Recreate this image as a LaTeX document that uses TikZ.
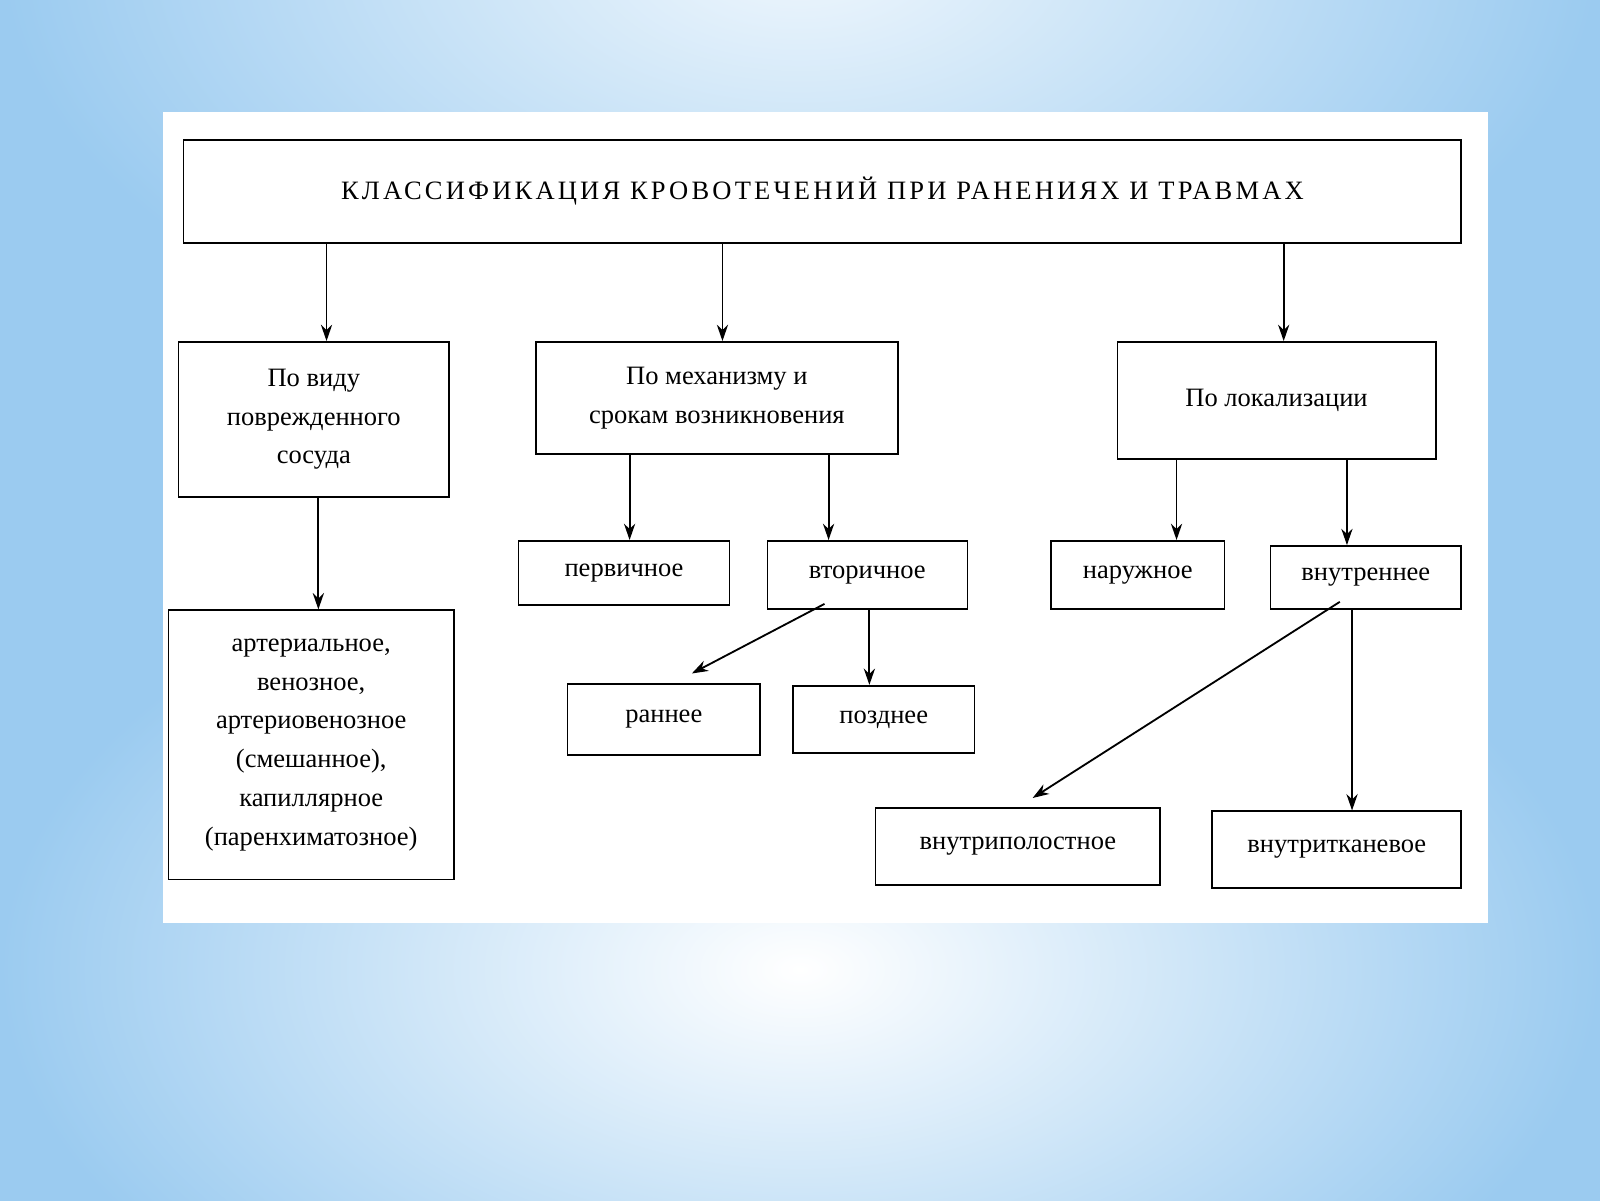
\documentclass[tikz,border=0pt]{standalone}
\usepackage{fontspec}
\setmainfont{Liberation Serif}
\usetikzlibrary{arrows.meta}
\definecolor{bgblue}{RGB}{155,203,240}
\tikzset{
 bx/.style={draw, line width=1.6pt, inner sep=0pt, align=center, font=\fontsize{26}{38}\selectfont},
 ar/.style={-{Stealth[length=16pt,width=11pt]}, line width=1.8pt},
}
\newcommand{\bxat}[6]{\node[bx, minimum width=#3-#1, minimum height=#4-#2] (#5) at ({(#1+#3)/2},{(#2+#4)/2}) {#6};}
\begin{document}
\begin{tikzpicture}[x=1pt,y=-1pt]
\useasboundingbox (0,0) rectangle (1568,1176);
\fill[bgblue] (0,0) rectangle (1568,1176);
\shade[inner color=white, outer color=bgblue] (0,500) rectangle (1568,1400);
\shade[inner color=white!85!bgblue, outer color=bgblue] (0,-500) rectangle (1568,400);
\fill[white] (160,110) rectangle (1458,905);
\bxat{180}{137}{1432}{238}{T}{\fontsize{26}{30}\selectfont\addfontfeature{LetterSpace=12}КЛАССИФИКАЦИЯ КРОВОТЕЧЕНИЙ ПРИ РАНЕНИЯХ И ТРАВМАХ}
\bxat{175}{335}{440}{487}{A}{По виду\\повреждeнного\\сосуда}
\bxat{525}{335}{880}{445}{B}{По механизму и\\срокам возникновения}
\bxat{1095}{335}{1407}{450}{C}{По локализации}
\bxat{165}{598}{445}{862}{A1}{артериальное,\\венозное,\\артериовенозное\\(смешанное),\\капиллярное\\(паренхиматозное)}
\bxat{508}{530}{715}{593}{B1}{первичное}
\bxat{752}{530}{948}{597}{B2}{вторичное}
\bxat{556}{670}{745}{740}{B3}{раннее}
\bxat{777}{672}{955}{738}{B4}{позднее}
\bxat{1030}{530}{1200}{597}{C1}{наружное}
\bxat{1245}{535}{1432}{597}{C2}{внутреннее}
\bxat{858}{792}{1137}{867}{C3}{внутриполостное}
\bxat{1188}{795}{1432}{870}{C4}{внутритканевое}
\draw[ar] (T.south -| 320,0) -- (A.north -| 320,0);
\draw[ar] (T.south -| 708,0) -- (B.north -| 708,0);
\draw[ar] (T.south -| 1258,0) -- (C.north -| 1258,0);
\draw[ar] (A.south -| 312,0) -- (A1.north -| 312,0);
\draw[ar] (B.south -| 617,0) -- (B1.north -| 617,0);
\draw[ar] (B.south -| 812,0) -- (B2.north -| 812,0);
\draw[ar] ([xshift=-42pt,yshift=6pt]B2.south) -- (678,660);
\draw[ar] (B2.south -| 852,0) -- (B4.north -| 852,0);
\draw[ar] (C.south -| 1153,0) -- (C1.north -| 1153,0);
\draw[ar] (C.south -| 1320,0) -- (C2.north -| 1320,0);
\draw[ar] ([yshift=8pt]C2.south -| 1313,0) -- (1012,782);
\draw[ar] (C2.south -| 1325,0) -- (C4.north -| 1325,0);
\end{tikzpicture}
\end{document}
